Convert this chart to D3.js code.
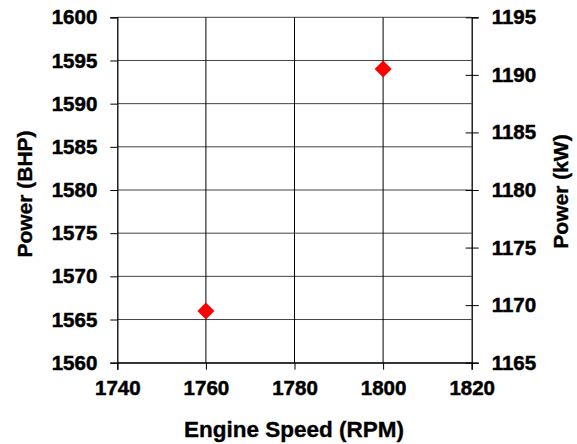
<!DOCTYPE html>
<html>
<head>
<meta charset="utf-8">
<script src="https://cdn.jsdelivr.net/npm/d3@7"></script>
<style>
  html, body { margin: 0; padding: 0; background: #fff; }
  svg text { font-family: Arial, "Liberation Sans", sans-serif; font-weight: bold; fill: #000; stroke: #000; stroke-width: 0.35px; }
</style>
</head>
<body>
<svg id="chart" width="577" height="444"></svg>
<script>
// Engine speed (RPM) vs power output
const speedRpm = [1760, 1800];
const powerBhp = [1566, 1594];

const xTicks = [1740, 1760, 1780, 1800, 1820];
const yTicksBhp = [1560, 1565, 1570, 1575, 1580, 1585, 1590, 1595, 1600];
const yTicksKw = [1165, 1170, 1175, 1180, 1185, 1190, 1195];

const xTitle = "Engine Speed (RPM)";
const yTitleLeft = "Power (BHP)";
const yTitleRight = "Power (kW)";

const svg = d3.select("#chart");
const plot = { left: 117.3, right: 471.7, top: 17.3, bottom: 362.7 };

const x = d3.scaleLinear().domain([1740, 1820]).range([plot.left, plot.right]);
const yL = d3.scaleLinear().domain([1560, 1600]).range([plot.bottom, plot.top]);
const yR = d3.scaleLinear().domain([1165, 1195]).range([plot.bottom, plot.top]);

const tickFont = 20.5;

// gridlines
const grid = svg.append("g").attr("stroke", "#000").attr("stroke-width", 1);
grid.selectAll("line.h").data(yTicksBhp).join("line")
  .attr("class", "h")
  .attr("x1", plot.left).attr("x2", plot.right)
  .attr("y1", d => yL(d)).attr("y2", d => yL(d))
  .attr("stroke", "#444");
grid.selectAll("line.v").data(xTicks.slice(1, -1)).join("line")
  .attr("class", "v")
  .attr("x1", d => x(d)).attr("x2", d => x(d))
  .attr("y1", plot.top).attr("y2", plot.bottom);

// left axis
const axL = d3.axisLeft(yL).tickValues(yTicksBhp).tickSize(7).tickPadding(13).tickFormat(d3.format("d"));
const gL = svg.append("g").attr("transform", `translate(${plot.left},0)`).call(axL);

// bottom axis
const axB = d3.axisBottom(x).tickValues(xTicks).tickSize(7).tickPadding(11).tickFormat(d3.format("d"));
const gB = svg.append("g").attr("transform", `translate(0,${plot.bottom})`).call(axB);

// right axis (ticks cross the axis line)
const axR = d3.axisRight(yR).tickValues(yTicksKw).tickSize(7).tickPadding(13).tickFormat(d3.format("d"));
const gR = svg.append("g").attr("transform", `translate(${plot.right},0)`).call(axR);
gR.selectAll(".tick line").attr("x1", -6);

[gL, gB, gR].forEach(g => {
  g.attr("font-family", null).attr("font-size", null);
  g.select(".domain").attr("stroke", "#000").attr("stroke-width", 1.3);
  g.selectAll(".tick line").attr("stroke", "#000");
  g.selectAll("text")
    .style("font-size", tickFont + "px")
    .style("font-weight", "bold")
    .style("stroke-width", "0.5px");
});

// data markers: red diamonds
const r = 8.5;
svg.append("g").selectAll("path").data(speedRpm.map((s, i) => [s, powerBhp[i]])).join("path")
  .attr("transform", d => `translate(${x(d[0])},${yL(d[1])})`)
  .attr("d", `M0,${-r}L${r},0L0,${r}L${-r},0Z`)
  .attr("fill", "#ff0000");

// axis titles
svg.append("text")
  .attr("x", 294).attr("y", 437)
  .attr("text-anchor", "middle").attr("font-size", 22.5)
  .text(xTitle);
svg.append("text")
  .attr("transform", `translate(32,${194}) rotate(-90)`)
  .attr("text-anchor", "middle").attr("font-size", 21)
  .text(yTitleLeft);
svg.append("text")
  .attr("transform", `translate(568,${191.5}) rotate(-90)`)
  .attr("text-anchor", "middle").attr("font-size", 21)
  .text(yTitleRight);
</script>
</body>
</html>
